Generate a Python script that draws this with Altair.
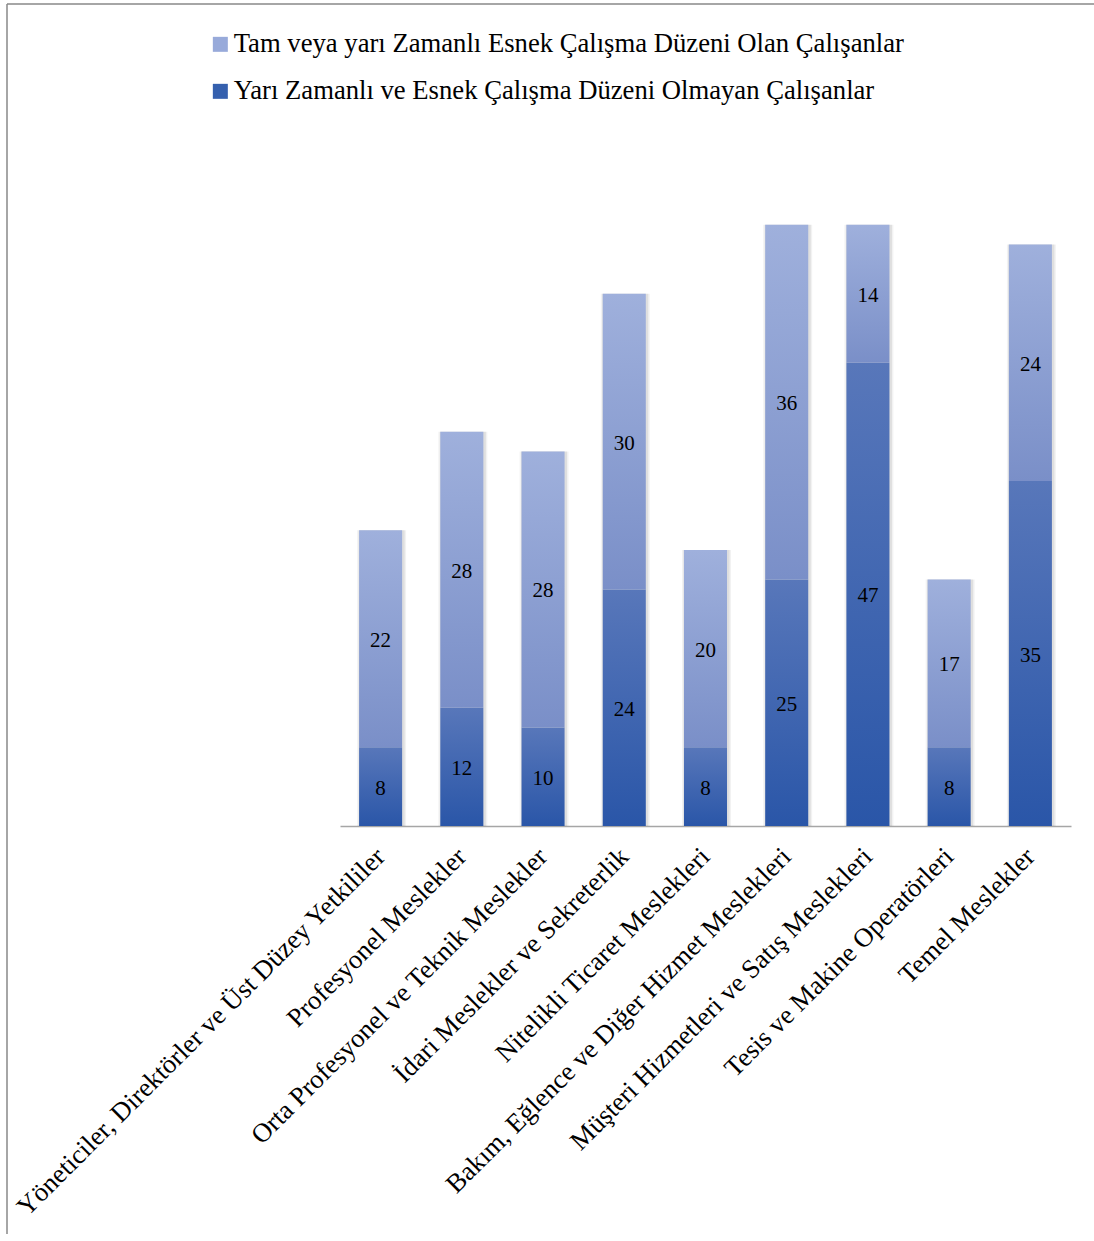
import altair as alt
import pandas as pd

# Occupational groups on the x axis
categories = [
    "Yöneticiler, Direktörler ve Üst Düzey Yetkililer",
    "Profesyonel Meslekler",
    "Orta Profesyonel ve Teknik Meslekler",
    "İdari Meslekler ve Sekreterlik",
    "Nitelikli Ticaret Meslekleri",
    "Bakım, Eğlence ve Diğer Hizmet Meslekleri",
    "Müşteri Hizmetleri ve Satış Meslekleri",
    "Tesis ve Makine Operatörleri",
    "Temel Meslekler",
]

# Series (bottom segment = without flexible arrangement, top = with one)
series_flex = "Tam veya yarı Zamanlı Esnek Çalışma Düzeni Olan Çalışanlar"
series_fixed = "Yarı Zamanlı ve Esnek Çalışma Düzeni Olmayan Çalışanlar"
fixed_values = [8, 12, 10, 24, 8, 25, 47, 8, 35]
flex_values = [22, 28, 28, 30, 20, 36, 14, 17, 24]

df = pd.DataFrame({"category": categories, "fixed": fixed_values, "flex": flex_values})
df["total"] = df["fixed"] + df["flex"]
df["fixed_mid"] = df["fixed"] / 2
df["flex_mid"] = df["fixed"] + df["flex"] / 2

legend_df = pd.DataFrame({"series": [series_flex, series_fixed], "category": categories[0]})

FONT = "Liberation Serif"

x_enc = alt.X(
    "category:N",
    sort=categories,
    scale=alt.Scale(domain=categories, paddingInner=0.47, paddingOuter=0.235),
    axis=alt.Axis(
        title=None,
        labelAngle=-45,
        labelFont=FONT,
        labelFontSize=26.67,
        labelColor="#000000",
        labelLimit=1000,
        labelPadding=17,
        labelOffset=-9,
        ticks=False,
        domainColor="#A6A6A6",
        domainWidth=1.3,
        grid=False,
    ),
)
y_scale = alt.Scale(domain=[0, 70], nice=False, zero=True)


def vgrad(top, bottom):
    return alt.LinearGradient(
        gradient="linear",
        x1=0, x2=0, y1=0, y2=1,
        stops=[alt.GradientStop(offset=0, color=top), alt.GradientStop(offset=1, color=bottom)],
    )


base = alt.Chart(df)

# soft shadow behind each stacked column
shadow_wide = base.mark_bar(size=49, color="#000000", opacity=0.05, xOffset=1).encode(
    x=x_enc, y=alt.Y("total:Q", scale=y_scale, axis=None)
)
shadow_near = base.mark_bar(size=46, color="#000000", opacity=0.08, xOffset=1).encode(
    x=x_enc, y=alt.Y("total:Q", scale=y_scale, axis=None)
)

fixed_bars = base.mark_bar(color=vgrad("#5877BA", "#2A56A8")).encode(
    x=x_enc,
    y=alt.Y("fixed:Q", scale=y_scale, axis=None),
)
flex_bars = base.mark_bar(color=vgrad("#9FB0DC", "#7A8FC8")).encode(
    x=x_enc,
    y=alt.Y("fixed:Q", scale=y_scale, axis=None),
    y2="total:Q",
)

fixed_text = base.mark_text(font=FONT, fontSize=21, color="#000000", baseline="middle", dy=2).encode(
    x=x_enc, y=alt.Y("fixed_mid:Q", scale=y_scale, axis=None), text="fixed:Q"
)
flex_text = base.mark_text(font=FONT, fontSize=21, color="#000000", baseline="middle", dy=2).encode(
    x=x_enc, y=alt.Y("flex_mid:Q", scale=y_scale, axis=None), text="flex:Q"
)

# zero-height bars that only carry the legend
legend_layer = (
    alt.Chart(legend_df)
    .mark_bar()
    .transform_calculate(zero="0")
    .encode(
        x=x_enc,
        y=alt.Y("zero:Q", scale=y_scale, axis=None),
        y2="zero:Q",
        color=alt.Color(
            "series:N",
            scale=alt.Scale(domain=[series_flex, series_fixed], range=["#98AADA", "#3560AE"]),
            legend=alt.Legend(
                title=None,
                orient="none",
                legendX=-133,
                legendY=-105,
                direction="vertical",
                symbolType="square",
                symbolSize=225,
                symbolStrokeWidth=0,
                labelFont=FONT,
                labelFontSize=26.67,
                labelColor="#000000",
                labelLimit=1000,
                labelOffset=0,
                rowPadding=19,
                padding=0,
            ),
        ),
    )
)

# outer frame of the chart area (left and top edges)
frame_data = alt.Data(values=[{}])
frame_left = alt.Chart(frame_data).mark_rule(color="#888888", strokeWidth=1.5).encode(
    x=alt.value(-333), y=alt.value(-132), y2=alt.value(1100)
)
frame_top = alt.Chart(frame_data).mark_rule(color="#888888", strokeWidth=1.5).encode(
    x=alt.value(-333), x2=alt.value(754), y=alt.value(-132)
)

chart = (
    alt.layer(
        frame_left, frame_top,
        shadow_wide, shadow_near,
        fixed_bars, flex_bars,
        fixed_text, flex_text,
        legend_layer,
    )
    .properties(
        width=731,
        height=690,
        autosize=alt.AutoSizeParams(type="none"),
        padding={"left": 340, "top": 136, "right": 23, "bottom": 408},
        background="#FFFFFF",
    )
    .configure_view(stroke=None)
)

chart.save("out.html", embed_options={"renderer": "svg", "actions": False})
